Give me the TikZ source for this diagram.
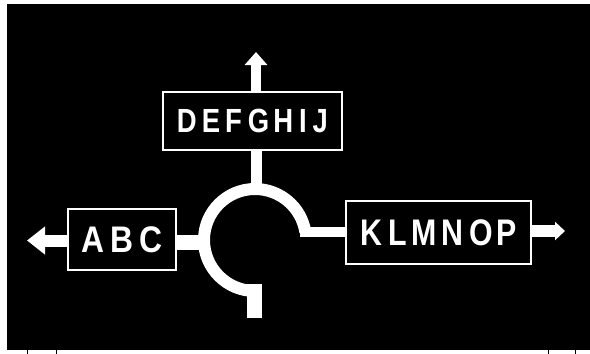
\documentclass[tikz,border=0pt]{standalone}
\usepackage{fontspec}
\setmainfont{Liberation Sans}
\newfontfamily\signfont[FakeStretch=0.82]{Liberation Sans Bold}
\newfontfamily\signfontwide[FakeStretch=0.86]{Liberation Sans Bold}
\usetikzlibrary{arrows.meta}
\begin{document}
\begin{tikzpicture}[x=1pt,y=-1pt,
  signbox/.style={draw=white, fill=black, line width=2.5pt, text=white,
    inner sep=0pt},
  road/.style={draw=white, line cap=butt},
]
\useasboundingbox (0,0) rectangle (590,354);
\fill[white] (0,0) rectangle (590,354);
\fill[black] (7,4) rectangle (590,350);
\foreach \x in {27,56,548,575} \draw[black, line width=0.8pt] (\x,350) -- (\x,354);

% signs
\node[signbox, minimum width=108pt, minimum height=61pt, font=\signfontwide\fontsize{37}{37}\selectfont]
  (abc) at (122,239.5) {A\kern7pt B\kern6pt C};
\node[signbox, minimum width=179pt, minimum height=58pt, font=\signfont\fontsize{33.5}{33.5}\selectfont]
  (def) at (252.5,121) {D\kern5pt E\kern5pt F\kern6pt G\kern4pt H\kern6pt I\kern6pt J};
\node[signbox, minimum width=185pt, minimum height=63pt, font=\signfont\fontsize{37}{37}\selectfont]
  (klm) at (438.5,232.5) {K\kern6pt L\kern5pt M\kern5pt N\kern6pt O\kern3pt P};

% key points of the roads
\coordinate (ring) at (255,240);
\coordinate (tipW) at (27,240.5);
\coordinate (tipN) at (256,52);
\coordinate (tipE) at (565,231);
\coordinate (ringN) at (256,189);
\coordinate (ringW) at (206,242.5);
\coordinate (ringE) at (300,232);
\coordinate (ringS) at (254.5,284);
\coordinate (endS) at (254.5,318);

% roundabout
\draw[road, line width=12pt] (ring) ++(90:51) arc[start angle=90, end angle=351, radius=51];
\draw[road, line width=15pt] (ringS) -- (endS);
\draw[road, line width=11pt] (ringN |- def.south) -- (ringN);
\draw[road, line width=15pt] (abc.east |- ringW) -- (ringW);
\draw[road, line width=10pt] (ringE) -- (ringE -| klm.west);

% arrows
\draw[road, line width=12pt, -{Triangle[width=27pt,length=18pt]}] (abc.west |- tipW) -- (tipW);
\draw[road, line width=10pt, -{Triangle[width=22pt,length=13pt]}] (tipN |- def.north) -- (tipN);
\draw[road, line width=12pt, -{Triangle[width=18pt,length=10pt]}] (tipE -| klm.east) -- (tipE);
\end{tikzpicture}
\end{document}
